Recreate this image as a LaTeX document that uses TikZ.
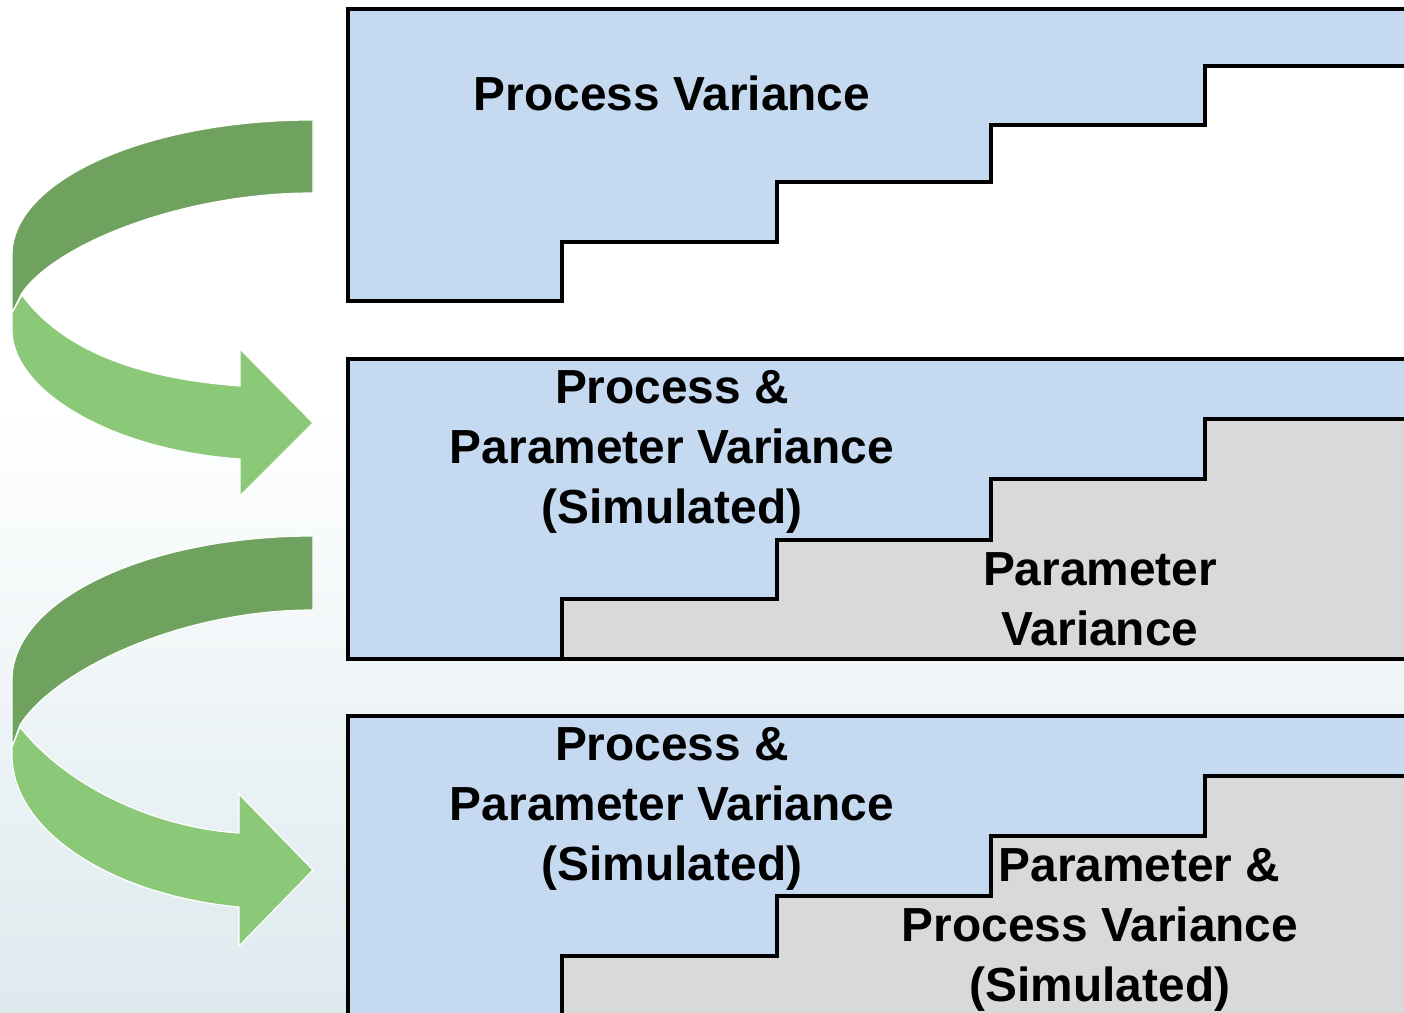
\documentclass[tikz,border=0pt]{standalone}
\usepackage{fontspec}
\setmainfont{Liberation Sans}
\usepackage{tikz}
\definecolor{stepblue}{RGB}{197, 217, 240}
\definecolor{stepgray}{RGB}{217, 217, 217}
\definecolor{darkleaf}{RGB}{112, 162, 95}
\definecolor{lightleaf}{RGB}{139, 200, 119}
\definecolor{mistblue}{RGB}{198, 219, 226}
\pgfdeclareverticalshading{mistfade}{100bp}{color(0bp)=(mistblue); color(12bp)=(mistblue!85); color(55bp)=(white); color(100bp)=(white)}
\tikzset{
  procfill/.style={fill=stepblue, draw=black, line width=0.04cm, line join=miter},
  parfill/.style={fill=stepgray, draw=black, line width=0.04cm, line join=miter},
  vartext/.style={font=\bfseries\fontsize{13.6}{17}\selectfont, align=center, inner sep=0pt},
  turnback/.style={fill=darkleaf, draw=white, line width=0.012cm},
  turnfront/.style={fill=lightleaf, draw=white, line width=0.012cm},
}

\begin{document}
\begin{tikzpicture}[x=0.01cm, y=-0.01cm]
  \useasboundingbox (0,0) rectangle (1404,1013);
  \clip (0,0) rectangle (1404,1013);
  \shade[shading=mistfade] (0,0) rectangle (1404,1013);

  % first stair: process variance only
  \draw[procfill] (348,9) -- (1420,9) -- (1420,66) -- (1205,66) -- (1205,125) -- (991,125)
    -- (991,182) -- (777,182) -- (777,242) -- (562,242) -- (562,301) -- (348,301) -- cycle;

  % second stair
  \draw[procfill] (348,359) rectangle (1420,659);
  \draw[parfill] (562,659) -- (562,599) -- (777,599) -- (777,540) -- (991,540) -- (991,479)
    -- (1205,479) -- (1205,419) -- (1420,419) -- (1420,659) -- cycle;

  % third stair
  \draw[procfill] (348,716) rectangle (1420,1030);
  \draw[parfill] (562,1030) -- (562,956) -- (777,956) -- (777,896) -- (991,896) -- (991,836)
    -- (1205,836) -- (1205,776) -- (1420,776) -- (1420,1030) -- cycle;

  % turn arrows
  \draw[turnback] (313,120) .. controls (147,120) and (12,180) .. (12,255) -- (12,313)
    -- (22,293) .. controls (55,245) and (180,193) .. (313,193) -- cycle;
  \draw[turnfront] (22,295) .. controls (70,360) and (160,380) .. (240,386) -- (240,349)
    -- (313,423) -- (240,496) -- (240,459) .. controls (110,450) and (12,390) .. (12,330)
    -- (12,313) -- cycle;

  \draw[turnback] (313,536) .. controls (147,536) and (12,600) .. (12,680) -- (12,747)
    -- (20,725) .. controls (55,670) and (180,610) .. (313,610) -- cycle;
  \draw[turnfront] (20,727) .. controls (70,790) and (160,828) .. (239,833) -- (239,794)
    -- (313,870) -- (239,946) -- (239,907) .. controls (110,895) and (12,830) .. (12,755)
    -- (12,747) -- cycle;

  \node[vartext, anchor=base] (procvar) at (672,111) {Process Variance};

  \node[vartext] (simleft) at (672,452) {Process \&\\Parameter Variance\\(Simulated)};
  \node[vartext] (parvar) at (1100,599) {Parameter\\Variance};

  \node[vartext] (simleftb) at (672,809) {Process \&\\Parameter Variance\\(Simulated)};
  \node[vartext] (simright) at (1100,930) {\hspace*{1.65em}Parameter \&\\Process Variance\\(Simulated)};
\end{tikzpicture}
\end{document}
